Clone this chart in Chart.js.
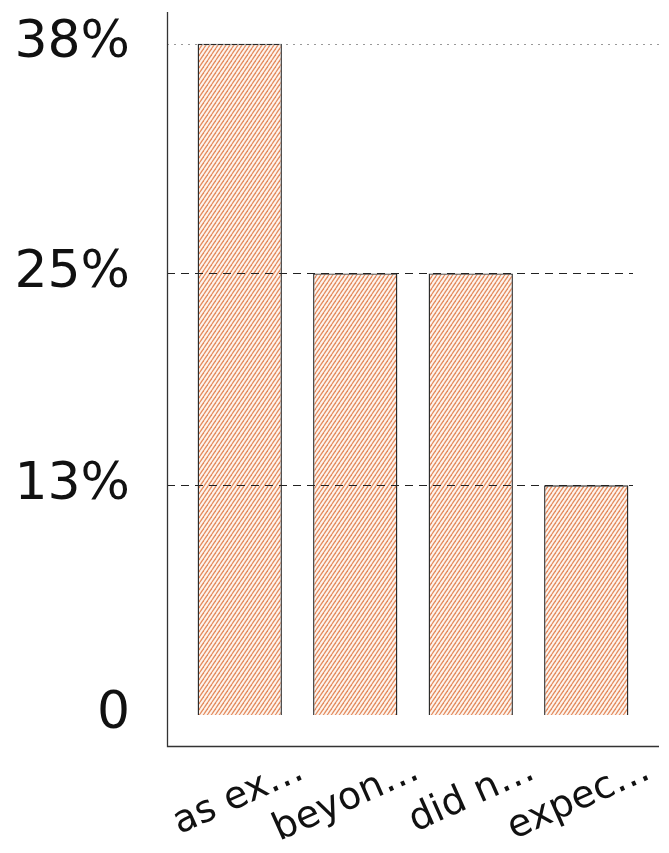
<!DOCTYPE html>
<html>
<head>
<meta charset="utf-8">
<script src="https://cdn.jsdelivr.net/npm/chart.js@4/dist/chart.umd.min.js"></script>
<style>
  body { margin: 0; background: #fff; }
</style>
</head>
<body>
<canvas id="chart" width="669" height="853"></canvas>
<script>
// data
const categories = ['as ex…', 'beyon…', 'did n…', 'expec…'];
const shares = [38, 25, 25, 13];
const tickValues = [0, 13, 25, 38];
const tickLabels = ['0', '13%', '25%', '38%'];

const FONT = '"DejaVu Sans", "Noto Sans", sans-serif';

// diagonal orange hatching like the sketchy original
function makeHatch() {
  const c = document.createElement('canvas');
  c.width = 4;
  c.height = 6;
  const g = c.getContext('2d');
  g.fillStyle = '#fdf5ef';
  g.fillRect(0, 0, 4, 6);
  g.strokeStyle = 'rgba(228, 140, 95, 1)';
  g.lineWidth = 1.3;
  for (let dx = -4; dx <= 4; dx += 4) {
    g.beginPath();
    g.moveTo(dx, 6);
    g.lineTo(dx + 4, 0);
    g.stroke();
  }
  return g.createPattern(c, 'repeat');
}

// axis lines sit a bit outside the category area, grid lines drawn on top of the bars
const sketchAxes = {
  id: 'sketchAxes',
  afterDatasetsDraw(chart) {
    const { ctx, chartArea, scales } = chart;
    const y = scales.y;
    const left = chartArea.left - 15;
    const right = chartArea.right + 15;
    const bottom = chartArea.bottom;
    ctx.save();

    tickValues.forEach(v => {
      if (v === 0) return;
      const py = Math.round(y.getPixelForValue(v)) + 0.5;
      ctx.beginPath();
      if (v === tickValues[tickValues.length - 1]) {
        ctx.setLineDash([2, 5]);
        ctx.strokeStyle = '#999';
        ctx.lineWidth = 1;
        ctx.moveTo(left, py);
        ctx.lineTo(right, py);
      } else {
        ctx.setLineDash([8, 6]);
        ctx.strokeStyle = '#222';
        ctx.lineWidth = 1.2;
        ctx.moveTo(left, py);
        ctx.lineTo(chartArea.right - 11, py);
      }
      ctx.stroke();
    });

    ctx.setLineDash([]);
    ctx.strokeStyle = '#333';
    ctx.lineWidth = 1.3;
    ctx.beginPath();
    ctx.moveTo(left + 0.5, chartArea.top);
    ctx.lineTo(left + 0.5, bottom + 0.5);
    ctx.lineTo(right, bottom + 0.5);
    ctx.stroke();
    ctx.restore();
  }
};

function noPad(s) {
  s.paddingTop = 0;
  s.paddingBottom = 0;
  s.paddingLeft = 0;
  s.paddingRight = 0;
}

new Chart(document.getElementById('chart'), {
  type: 'bar',
  data: {
    labels: categories,
    datasets: [{
      data: shares,
      backgroundColor: makeHatch(),
      borderColor: '#2b2b2b',
      borderWidth: 1.4,
      barPercentage: 0.73,
      categoryPercentage: 1
    }]
  },
  options: {
    responsive: false,
    animation: false,
    devicePixelRatio: 1,
    layout: { padding: { top: 12, right: 25, left: 0, bottom: 0 } },
    plugins: {
      legend: { display: false },
      tooltip: { enabled: false }
    },
    scales: {
      x: {
        grid: { display: false, drawTicks: false },
        border: { display: false },
        afterFit: s => { s.height = 107; noPad(s); },
        ticks: {
          autoSkip: false,
          minRotation: 24,
          maxRotation: 24,
          labelOffset: 62,
          padding: 2,
          color: '#111',
          font: { family: FONT, size: 38 }
        }
      },
      y: {
        min: -1.76,
        max: 39.8,
        grid: { display: false, drawTicks: false },
        border: { display: false },
        afterFit: s => { s.width = 182; noPad(s); },
        afterBuildTicks: s => { s.ticks = tickValues.map(v => ({ value: v })); },
        ticks: {
          padding: 52,
          color: '#111',
          font: { family: FONT, size: 52 },
          callback: (v) => tickLabels[tickValues.indexOf(v)]
        }
      }
    }
  },
  plugins: [sketchAxes]
});
</script>
</body>
</html>
